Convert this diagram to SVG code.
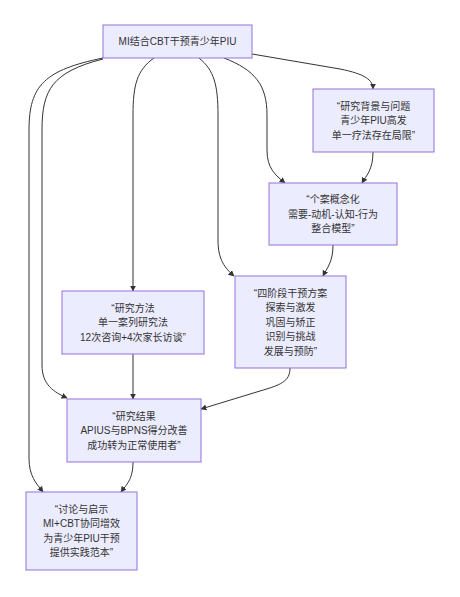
<svg xmlns="http://www.w3.org/2000/svg" width="460" height="597" viewBox="0 0 460 597">
<style>
.node rect{fill:#ECECFF;stroke:#9370DB;stroke-width:1}
.node text{font-family:"Liberation Sans","Noto Sans CJK SC",sans-serif;font-size:10px;fill:#333;text-anchor:middle}
.edges path{fill:none;stroke:#333;stroke-width:1;marker-end:url(#arr)}
</style>
<defs>
<marker id="arr" viewBox="0 0 10 10" refX="9" refY="5" markerWidth="6" markerHeight="6" orient="auto" markerUnits="userSpaceOnUse">
<path d="M0,0 L10,5 L0,10 z" fill="#333"/>
</marker>
</defs>
<rect width="460" height="597" fill="#fff"/>
<g class="edges">
<path d="M103,58 C45,70 29,85 29,130 L29,458 C29,476 36,483 43,492"/>
<path d="M103,59 C52,72 42,90 42,130 L42,365 C42,385 54,392 67,398"/>
<path d="M154,58 C137,70 133,85 133,115 L133,291"/>
<path d="M199,58 C214,70 218,85 218,115 L218,240 C218,260 225,268 234,276"/>
<path d="M224,58 C255,70 267,85 267,115 L267,150 C267,168 275,175 285,183"/>
<path d="M252,54 L340,69 C365,74 373,80 373,89"/>
<path d="M373,152 C373,170 366,176 362,183"/>
<path d="M333,245 C333,262 327,268 323,276"/>
<path d="M290,368 C290,382 280,385 260,391 L201,409"/>
<path d="M133,354 L133,399"/>
<path d="M133,462 C133,480 126,485 121,492"/>
</g>
<g id="A" class="node"><rect x="103" y="25" width="149" height="33"/><text x="177.5" y="45">MI结合CBT干预青少年PIU</text></g>
<g id="B" class="node"><rect x="313" y="89" width="121" height="63"/><text x="373.5" y="109.5"><tspan x="373.5">“研究背景与问题</tspan><tspan x="373.5" dy="14.5">青少年PIU高发</tspan><tspan x="373.5" dy="14.5">单一疗法存在局限”</tspan></text></g>
<g id="C" class="node"><rect x="269" y="183" width="128" height="62"/><text x="333" y="203"><tspan x="333">“个案概念化</tspan><tspan x="333" dy="14.5">需要-动机-认知-行为</tspan><tspan x="333" dy="14.5">整合模型”</tspan></text></g>
<g id="D" class="node"><rect x="235" y="276" width="111" height="92"/><text x="290.5" y="296.5"><tspan x="290.5">“四阶段干预方案</tspan><tspan x="290.5" dy="14.5">探索与激发</tspan><tspan x="290.5" dy="14.5">巩固与矫正</tspan><tspan x="290.5" dy="14.5">识别与挑战</tspan><tspan x="290.5" dy="14.5">发展与预防”</tspan></text></g>
<g id="E" class="node"><rect x="62" y="291" width="142" height="63"/><text x="133" y="311.5"><tspan x="133">“研究方法</tspan><tspan x="133" dy="14.5">单一案列研究法</tspan><tspan x="133" dy="14.5">12次咨询+4次家长访谈”</tspan></text></g>
<g id="F" class="node"><rect x="67" y="399" width="134" height="63"/><text x="134" y="419.5"><tspan x="134">“研究结果</tspan><tspan x="134" dy="14.5">APIUS与BPNS得分改善</tspan><tspan x="134" dy="14.5">成功转为正常使用者”</tspan></text></g>
<g id="G" class="node"><rect x="26" y="492" width="111" height="78"/><text x="81.5" y="512.5"><tspan x="81.5">“讨论与启示</tspan><tspan x="81.5" dy="14.5">MI+CBT协同增效</tspan><tspan x="81.5" dy="14.5">为青少年PIU干预</tspan><tspan x="81.5" dy="14.5">提供实践范本”</tspan></text></g>
</svg>
